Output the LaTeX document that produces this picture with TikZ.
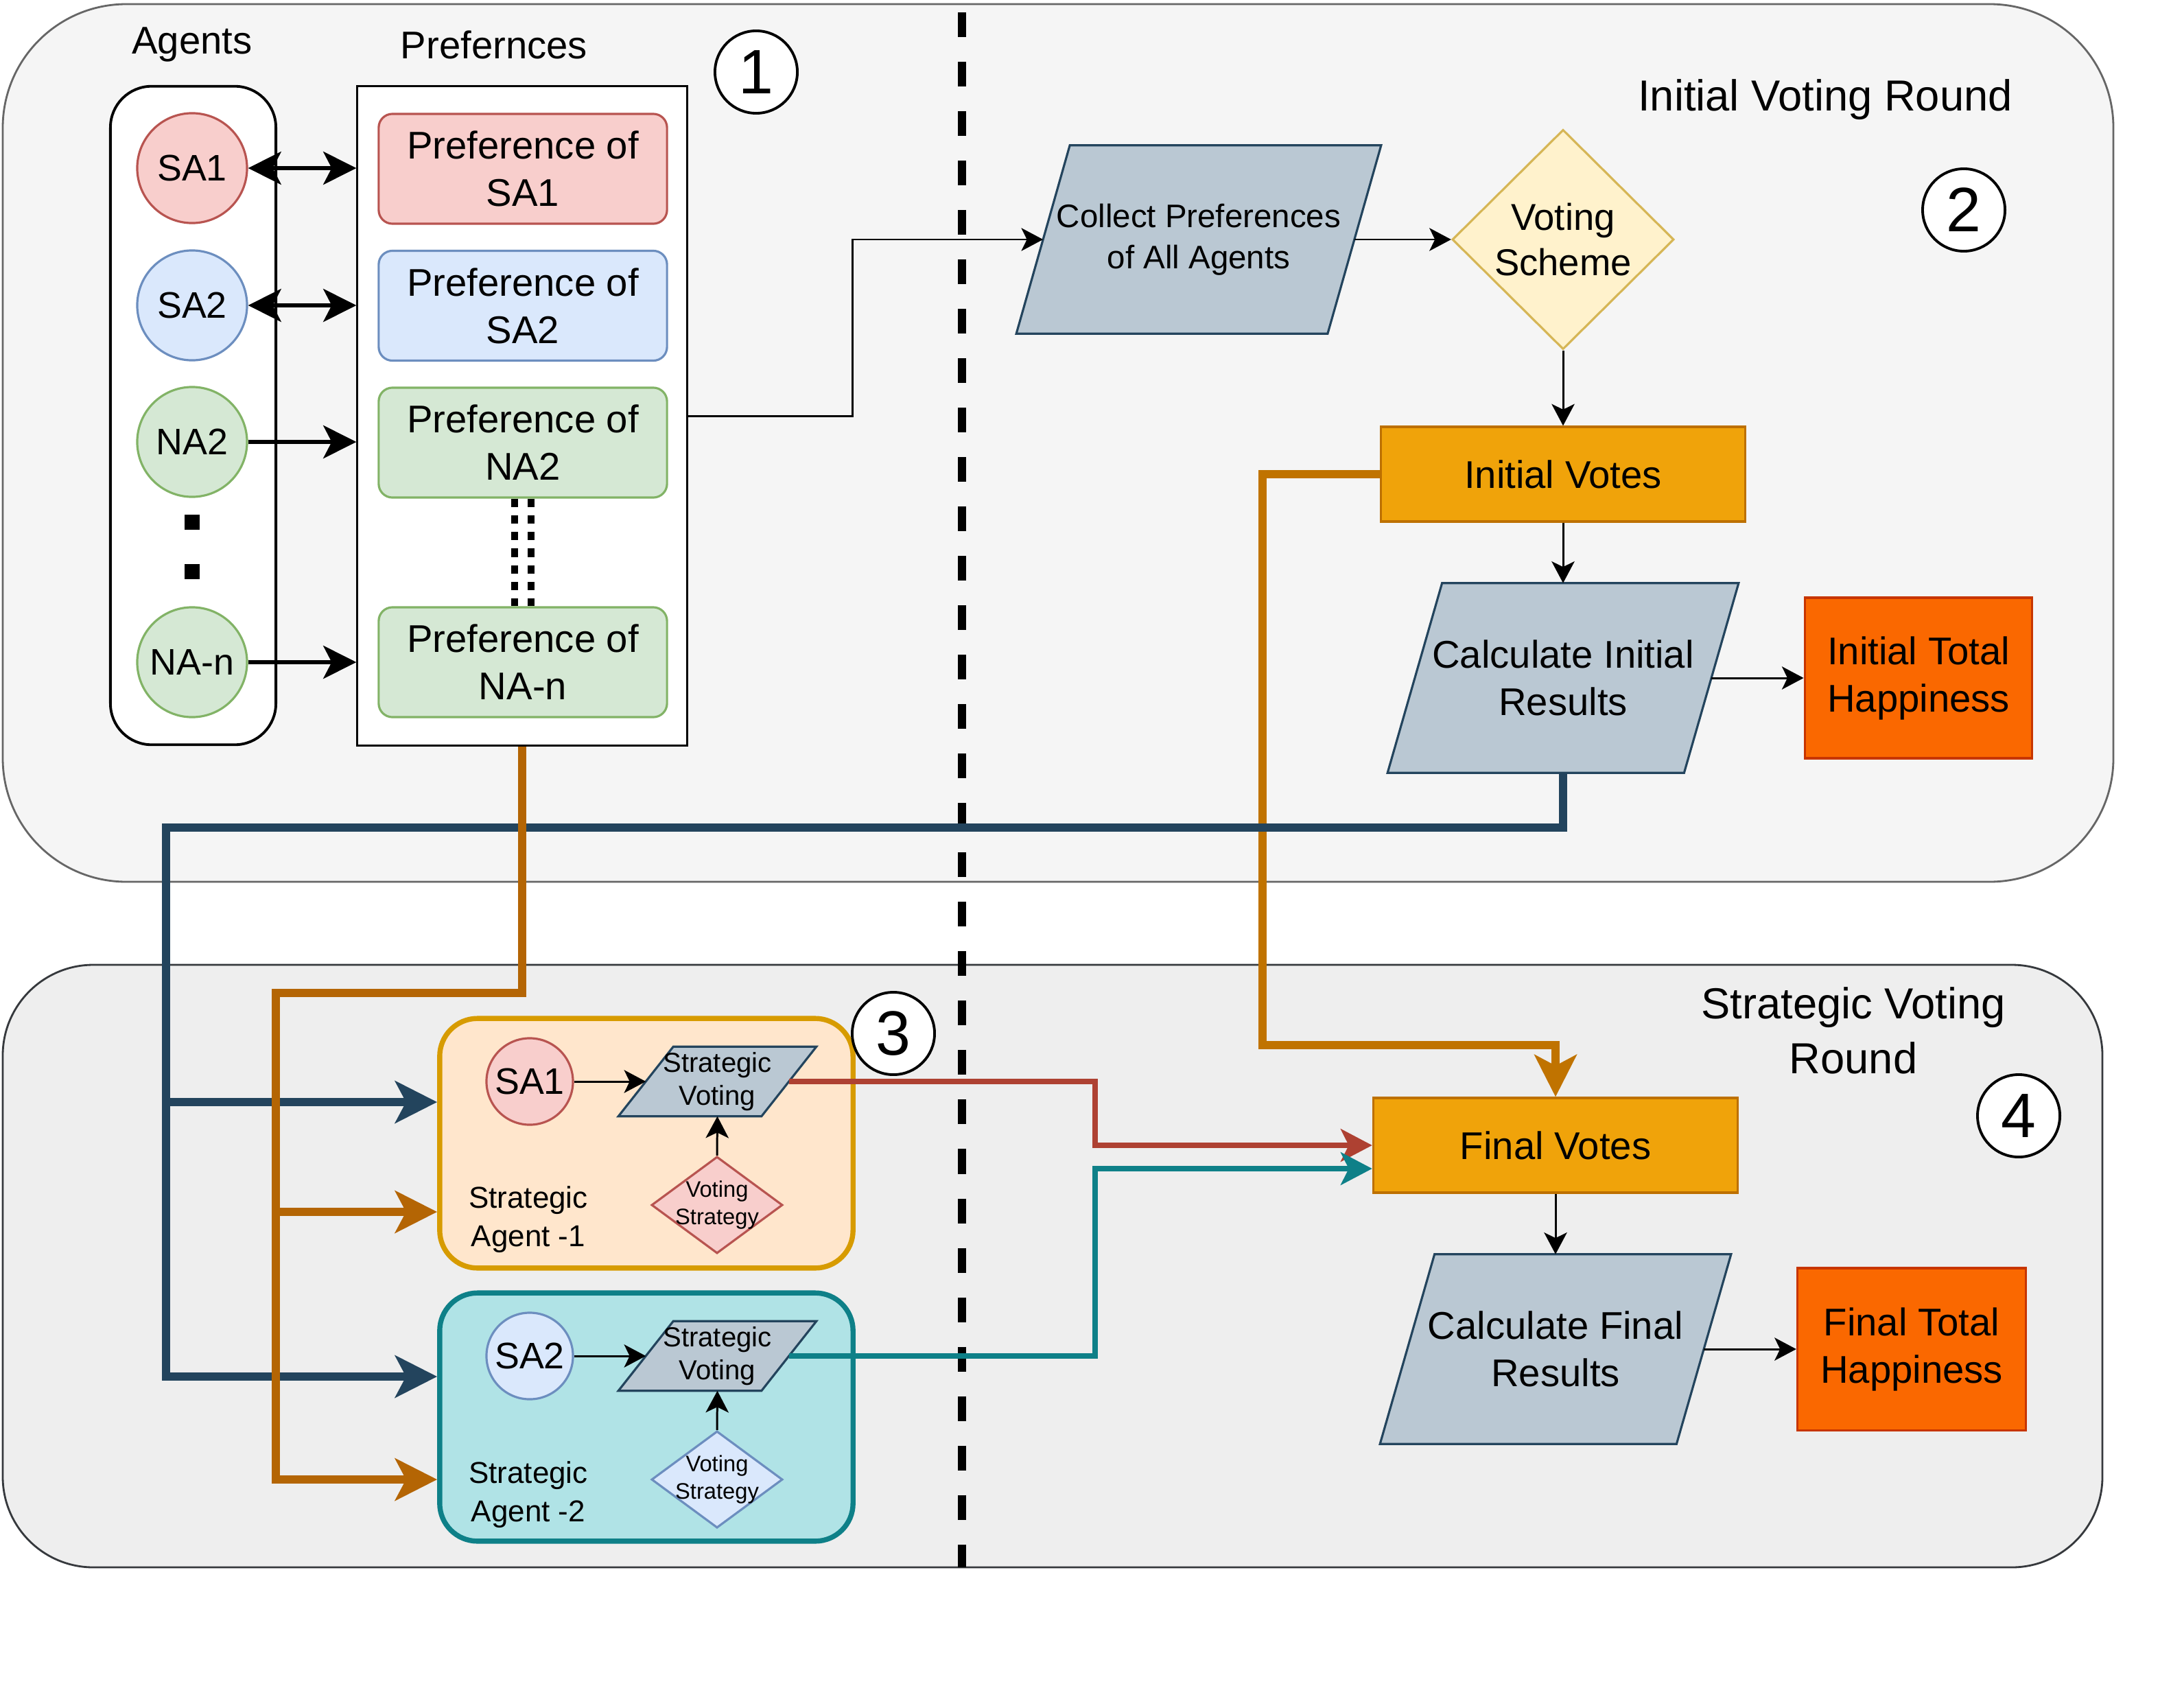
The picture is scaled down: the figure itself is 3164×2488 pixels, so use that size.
\documentclass[tikz,border=0pt]{standalone}
\usepackage{fontspec}
\setmainfont{Liberation Sans}
\usetikzlibrary{arrows.meta,calc,shapes.geometric}
\definecolor{topbg}{HTML}{F5F5F5}
\definecolor{topline}{HTML}{666666}
\definecolor{botbg}{HTML}{EEEEEE}
\definecolor{botline}{HTML}{36393D}
\definecolor{redF}{HTML}{F8CECC}
\definecolor{redL}{HTML}{B85450}
\definecolor{bluF}{HTML}{DAE8FC}
\definecolor{bluL}{HTML}{6C8EBF}
\definecolor{grnF}{HTML}{D5E8D4}
\definecolor{grnL}{HTML}{82B366}
\definecolor{paraF}{HTML}{BAC8D3}
\definecolor{paraL}{HTML}{23445D}
\definecolor{yelF}{HTML}{FFF2CC}
\definecolor{yelL}{HTML}{D6B656}
\definecolor{votF}{HTML}{F0A30A}
\definecolor{votL}{HTML}{BD7000}
\definecolor{hapF}{HTML}{FA6800}
\definecolor{hapL}{HTML}{C73500}
\definecolor{ag1F}{HTML}{FFE6CC}
\definecolor{ag1L}{HTML}{D79B00}
\definecolor{ag2F}{HTML}{B0E3E6}
\definecolor{ag2L}{HTML}{0E8088}
\definecolor{orA}{HTML}{B46504}
\definecolor{orB}{HTML}{C07300}
\definecolor{redC}{HTML}{AE4132}
\definecolor{tealC}{HTML}{0E8088}
\newcommand\fsMain{\fontsize{16}{19.6}\selectfont}
\newcommand\fsCirc{\fontsize{15.3}{18}\selectfont}
\newcommand\fsTitle{\fontsize{18}{22.8}\selectfont}
\newcommand\fsCollect{\fontsize{13.5}{17.2}\selectfont}
\newcommand\fsSV{\fontsize{11.4}{13.8}\selectfont}
\newcommand\fsVS{\fontsize{9.3}{11.5}\selectfont}
\newcommand\fsAg{\fontsize{12.5}{15.9}\selectfont}
\newcommand\fsVoting{\fontsize{15.5}{19}\selectfont}
\newcommand\fsNum{\fontsize{26}{30}\selectfont}
% #1 name, #2 position, #3 width, #4 height, #5 slant (px), #6 font, #7 text
\newcommand\paranode[7]{%
  \node[inner sep=0pt, minimum width=#3, minimum height=#4] (#1) at #2 {};
  \draw[parastyle] ($(#1.north west)+(#5,0)$) -- (#1.north east) -- ($(#1.south east)-(#5,0)$) -- (#1.south west) -- cycle;
  \node[align=center, inner sep=0pt, font=#6] (#1T) at (#1.center) {#7};
}
\begin{document}
\begin{tikzpicture}[x=0.01cm,y=-0.01cm,
  parastyle/.style={fill=paraF, draw=paraL, line width=0.9pt},
  lbl/.style={inner sep=0pt, align=center},
  pref/.style={draw, rounded corners=0.2cm, line width=0.9pt, minimum width=4.2cm, minimum height=1.6cm, inner sep=0pt, align=center, font=\fsMain},
  agc/.style={circle, draw, line width=0.9pt, minimum size=1.6cm, inner sep=0pt, font=\fsCirc},
  agcs/.style={circle, draw, line width=0.9pt, minimum size=1.26cm, inner sep=0pt, font=\fsCirc},
  numc/.style={circle, draw=black, fill=white, line width=1.1pt, minimum size=1.2cm, inner sep=0pt, font=\fsNum},
  fbox/.style={draw, line width=0.9pt, inner sep=0pt, align=center, font=\fsMain},
  vsd/.style={diamond, draw, line width=0.9pt, inner sep=0pt, minimum width=1.91cm, minimum height=1.41cm},
  agbx/.style={draw, line width=2.1pt, rounded corners=0.55cm, minimum width=6.02cm, inner sep=0pt},
  thinarr/.style={line width=0.85pt, -{Stealth[length=9pt,width=9.5pt,inset=2.3pt]}},
  medarr/.style={line width=1.6pt, -{Stealth[length=13.7pt,width=13.7pt,inset=3.5pt]}},
  medarrb/.style={line width=1.6pt, {Stealth[length=13.7pt,width=13.7pt,inset=3.5pt]}-{Stealth[length=13.7pt,width=13.7pt,inset=3.5pt]}},
  thickarr/.style={line width=3.3pt, -{Stealth[length=17.4pt,width=17.4pt,inset=4.5pt]}},
  colarr/.style={line width=2.2pt, -{Stealth[length=13pt,width=13.5pt,inset=3.3pt]}}
]
\useasboundingbox (0,0) rectangle (3164,2488);

% containers
\draw[fill=topbg, draw=topline, line width=0.8pt, rounded corners=1.8cm] (4,6) rectangle (3080,1285);
\draw[fill=botbg, draw=botline, line width=0.8pt, rounded corners=1.32cm] (4,1406) rectangle (3064,2284);
% dashed separator
\draw[line width=3.4pt, dash pattern=on 10.24pt off 10.24pt] (1402,18) -- (1402,2284);

% labels
\node[lbl, font=\fsMain] (lagents) at (280,65) {Agents};
\node[lbl, font=\fsMain] (lprefs) at (720,65) {Prefernces};
\node[lbl, font=\fsTitle] (lround1) at (2660,145) {Initial Voting Round};
\node[lbl, font=\fsTitle] (lround2) at (2701,1502) {Strategic Voting\\Round};

% agents column
\node[draw, fill=white, line width=1.1pt, rounded corners=0.6cm, minimum width=2.41cm, minimum height=9.59cm] (agbox) at (281.5,605.5) {};
\node[draw, fill=white, line width=0.9pt, minimum width=4.80cm, minimum height=9.60cm] (prefs) at (761,606) {};

\node[agc, fill=redF, draw=redL] (sa1) at (280,245) {SA1};
\node[agc, fill=bluF, draw=bluL] (sa2) at (280,445) {SA2};
\node[agc, fill=grnF, draw=grnL] (na2) at (280,644) {NA2};
\node[agc, fill=grnF, draw=grnL] (nan) at (280,965) {NA-n};
\node[fill=black, minimum size=0.22cm, inner sep=0pt] (dot1) at (280,761) {};
\node[fill=black, minimum size=0.22cm, inner sep=0pt] (dot2) at (280,833) {};

\node[pref, fill=redF, draw=redL] (psa1) at (762,246) {Preference of\\SA1};
\node[pref, fill=bluF, draw=bluL] (psa2) at (762,445.5) {Preference of\\SA2};
\node[pref, fill=grnF, draw=grnL] (pna2) at (762,645) {Preference of\\NA2};
\node[pref, fill=grnF, draw=grnL] (pnan) at (762,965) {Preference of\\NA-n};

\draw[line width=3.1pt, dash pattern=on 3.5pt off 3.4pt] ($(pna2.south)+(-12,0)$) -- ($(pnan.north)+(-12,0)$);
\draw[line width=3.1pt, dash pattern=on 3.5pt off 3.4pt] ($(pna2.south)+(12,0)$) -- ($(pnan.north)+(12,0)$);

\draw[medarrb] (sa1.east) -- (sa1.east -| prefs.west);
\draw[medarrb] (sa2.east) -- (sa2.east -| prefs.west);
\draw[medarr] (na2.east) -- (na2.east -| prefs.west);
\draw[medarr] (nan.east) -- (nan.east -| prefs.west);

% initial round flow
\paranode{collect}{(1747,349)}{5.30cm}{2.73cm}{78}{\fsCollect}{Collect Preferences\\of All Agents}
\node[diamond, draw=yelL, fill=yelF, line width=0.9pt, minimum width=3.23cm, minimum height=3.2cm, inner sep=0pt, align=center, font=\fsVoting] (vs) at (2278,349) {Voting\\Scheme};
\node[fbox, fill=votF, draw=votL, minimum width=5.30cm, minimum height=1.38cm] (iv) at (2278,691) {Initial Votes};
\paranode{ci}{(2278,988)}{5.10cm}{2.75cm}{79.5}{\fsMain}{Calculate Initial\\Results}
\node[fbox, fill=hapF, draw=hapL, minimum width=3.315cm, minimum height=2.34cm] (ith) at (2796,988) {Initial Total\\Happiness};

\coordinate (collectin) at ($(collect.west)+(39,0)$);
\coordinate (collectout) at ($(collect.east)+(-39,0)$);
\coordinate (ciout) at ($(ci.east)+(-40,0)$);
\draw[thinarr] (prefs.east) -- ++(240,0) |- (collectin);
\draw[thinarr] (collectout) -- (collectout -| vs.west);
\draw[thinarr] (vs.south) -- (iv.north);
\draw[thinarr] (iv.south) -- (ci.north);
\draw[thinarr] (ciout) -- (ciout -| ith.west);

% strategic round flow
\node[fbox, fill=votF, draw=votL, minimum width=5.31cm, minimum height=1.38cm] (fv) at (2267,1669) {Final Votes};
\paranode{cf}{(2267,1966)}{5.10cm}{2.75cm}{79.5}{\fsMain}{Calculate Final\\Results}
\node[fbox, fill=hapF, draw=hapL, minimum width=3.33cm, minimum height=2.36cm] (fth) at (2786,1966) {Final Total\\Happiness};
\coordinate (cfout) at ($(cf.east)+(-40,0)$);
\draw[thinarr] (fv.south) -- (cf.north);
\draw[thinarr] (cfout) -- (cfout -| fth.west);

% strategic agents
\node[agbx, fill=ag1F, draw=ag1L, minimum height=3.635cm] (ag1) at (942,1666) {};
\node[agbx, fill=ag2F, draw=ag2L, minimum height=3.615cm] (ag2) at (942,2065) {};

\node[agcs, fill=redF, draw=redL] (sa1s) at (772,1576) {SA1};
\node[agcs, fill=bluF, draw=bluL] (sa2s) at (772,1976) {SA2};
\paranode{sv1}{(1045.5,1576)}{2.87cm}{1.0cm}{80}{\fsSV}{Strategic\\Voting}
\paranode{sv2}{(1045.5,1976)}{2.87cm}{1.0cm}{80}{\fsSV}{Strategic\\Voting}
\node[vsd, fill=redF, draw=redL] (vst1) at (1045,1756) {};
\node[lbl, font=\fsVS] (vst1T) at (vst1.center) {Voting\\Strategy};
\node[vsd, fill=bluF, draw=bluL] (vst2) at (1045,2156) {};
\node[lbl, font=\fsVS] (vst2T) at (vst2.center) {Voting\\Strategy};
\node[lbl, font=\fsAg] (sag1) at (770,1777) {Strategic\\Agent -1};
\node[lbl, font=\fsAg] (sag2) at (770,2178) {Strategic\\Agent -2};

\coordinate (sv1in) at ($(sv1.west)+(40,0)$);
\coordinate (sv2in) at ($(sv2.west)+(40,0)$);
\coordinate (sv1out) at ($(sv1.east)+(-40,0)$);
\coordinate (sv2out) at ($(sv2.east)+(-40,0)$);
\draw[thinarr] (sa1s.east) -- (sv1in);
\draw[thinarr] (sa2s.east) -- (sv2in);
\draw[thinarr] (vst1.north) -- (sv1.south);
\draw[thinarr] (vst2.north) -- (sv2.south);

% long connectors
\draw[thickarr, color=orB] (iv.west) -| ($(iv.west)+(-171,832)$) -| (fv.north);

\coordinate (bl) at (242,1206);
\coordinate (b1) at ($(ag1.west)+(0,-60)$);
\coordinate (b2) at ($(ag2.west)+(0,-59)$);
\draw[thickarr, color=paraL] (ci.south) |- (bl) |- (b2);
\draw[thickarr, color=paraL] (bl |- b1) -- (b1);

\coordinate (oc) at (402,1447);
\coordinate (o1) at ($(ag1.west)+(0,100)$);
\coordinate (o2) at ($(ag2.west)+(0,91)$);
\draw[thickarr, color=orA] (prefs.south) |- (oc) |- (o2);
\draw[thickarr, color=orA] (oc |- o1) -- (o1);

\coordinate (tealin) at ($(fv.west)+(0,34)$);
\draw[colarr, color=redC] (sv1out) -- ++(446,0) |- (fv.west);
\draw[colarr, color=tealC] (sv2out) -- ++(446,0) |- (tealin);

% step numbers
\node[numc] (n1) at (1102,105) {1};
\node[numc] (n2) at (2862,306) {2};
\node[numc] (n3) at (1302,1506) {3};
\node[numc] (n4) at (2942,1626) {4};
\end{tikzpicture}
\end{document}
